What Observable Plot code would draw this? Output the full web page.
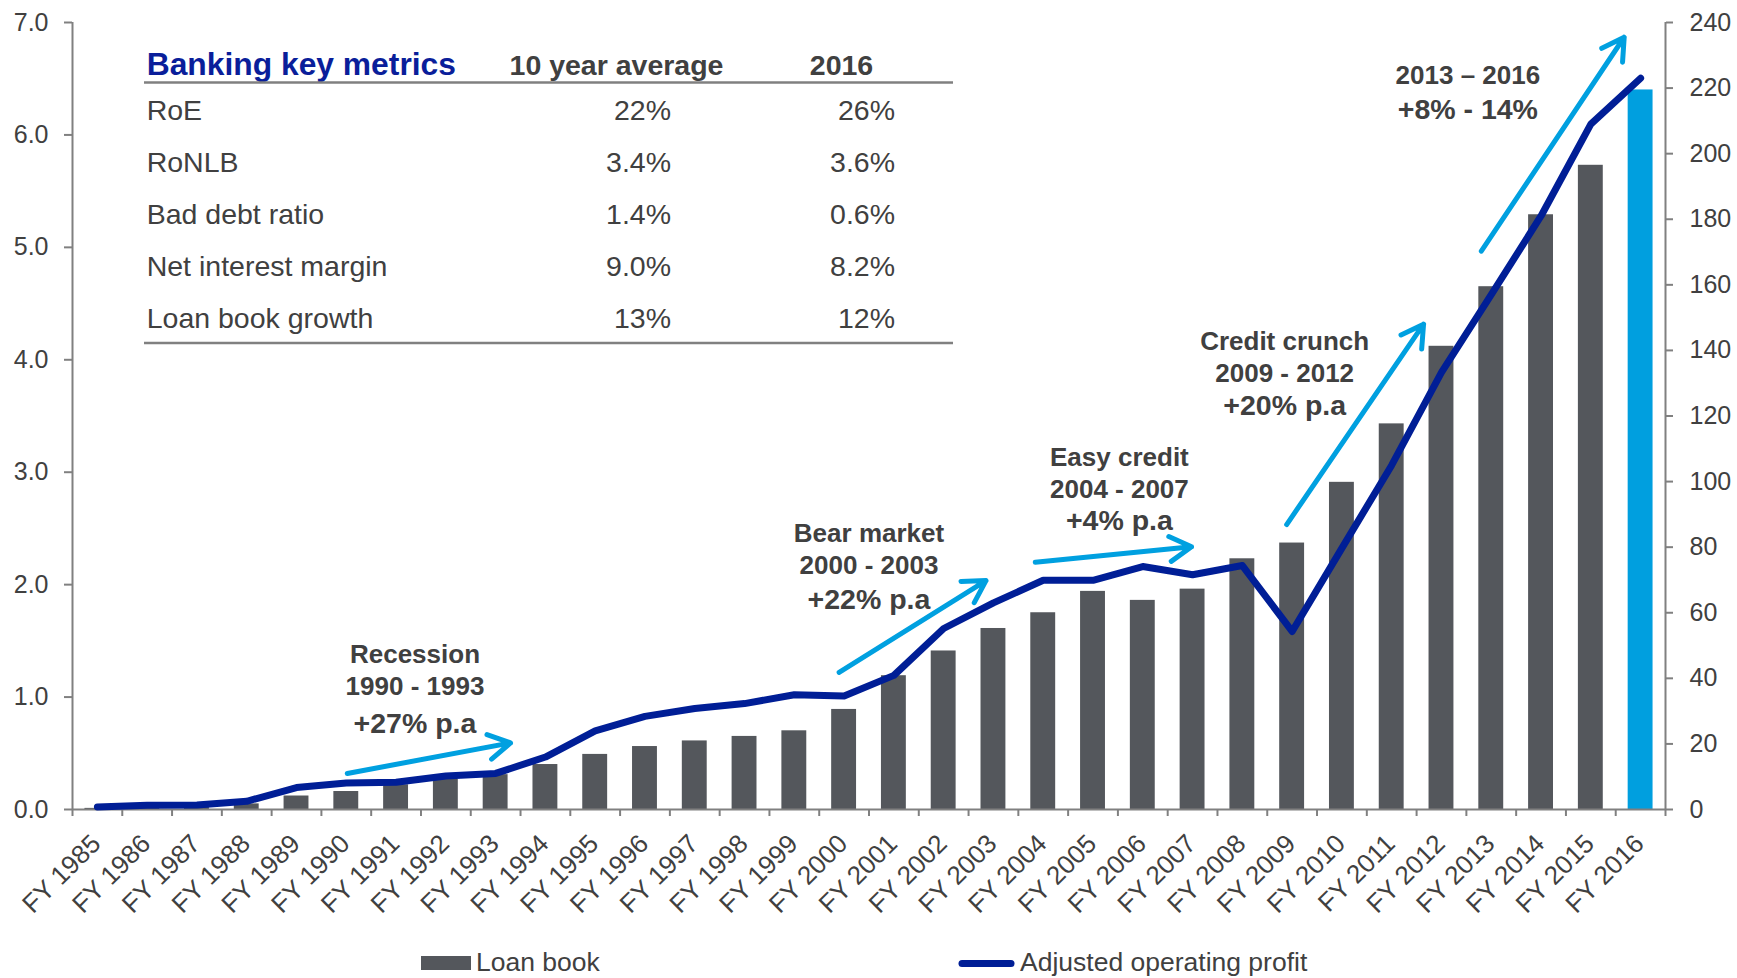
<!DOCTYPE html>
<html>
<head>
<meta charset="utf-8">
<script src="https://cdn.jsdelivr.net/npm/d3@7"></script>
<script src="https://cdn.jsdelivr.net/npm/@observablehq/plot@0.6"></script>
<style>
  html, body { margin: 0; padding: 0; background: #fff; }
  #wrap { position: relative; width: 1737px; height: 978px; overflow: hidden; background: #fff; }
  #wrap svg { display: block; }
</style>
</head>
<body>
<div id="wrap"></div>
<script>
// ---------------- DATA ----------------
const years = [1985, 1986, 1987, 1988, 1989, 1990, 1991, 1992, 1993, 1994, 1995, 1996, 1997, 1998, 1999, 2000,
               2001, 2002, 2003, 2004, 2005, 2006, 2007, 2008, 2009, 2010, 2011, 2012, 2013, 2014, 2015, 2016];
// Loan book (left axis, 0–7)
const loanBook = [0.01, 0.01, 0.02, 0.05, 0.12, 0.16, 0.22, 0.27, 0.31, 0.40, 0.49, 0.56, 0.61, 0.65, 0.70, 0.89,
                  1.19, 1.41, 1.61, 1.75, 1.94, 1.86, 1.96, 2.23, 2.37, 2.91, 3.43, 4.12, 4.65, 5.29, 5.73, 6.40];
// Adjusted operating profit (right axis, 0–240)
const profit = [0.8, 1.3, 1.4, 2.5, 6.7, 8.1, 8.3, 10.2, 11.0, 16.0, 24.0, 28.4, 30.8, 32.3, 35.0, 34.6,
                40.9, 55.2, 63.0, 69.9, 69.9, 74.1, 71.6, 74.4, 54.3, 79.7, 105, 133.3, 157, 181, 209, 223];
const highlightYear = 2016;

const leftTicks = [0, 1, 2, 3, 4, 5, 6, 7];
const leftMax = 7;
const rightTicks = [0, 20, 40, 60, 80, 100, 120, 140, 160, 180, 200, 220, 240];
const rightMax = 240;

const legendLabels = ["Loan book", "Adjusted operating profit"];

// Key metrics table
const tableHeader = ["Banking key metrics", "10 year average", "2016"];
const tableRows = ["RoE", "RoNLB", "Bad debt ratio", "Net interest margin", "Loan book growth"];
const tableAvg = ["22%", "3.4%", "1.4%", "9.0%", "13%"];
const table2016 = ["26%", "3.6%", "0.6%", "8.2%", "12%"];

// Period annotations (anchored in year / right-axis units)
const annotTitles = [["Recession", "1990 - 1993"], ["Bear market", "2000 - 2003"], ["Easy credit", "2004 - 2007"],
                     ["Credit crunch", "2009 - 2012"], ["2013 \u2013 2016"]];
const annotRates = ["+27% p.a", "+22% p.a", "+4% p.a", "+20% p.a", "+8% - 14%"];
const annotYear = [1991.38, 2000.5, 2005.53, 2008.85, 2012.53];
const annotTitleValues = [[44.6, 34.8], [81.5, 71.9], [104.6, 95.1], [140.1, 130.3], [221.3]];
const annotRateValue = [23.2, 61.2, 85.1, 120.2, 210.7];

// Trend arrows (year, right-axis value)
const arrowStartYear = [1990.02, 1999.90, 2003.84, 2008.89, 2012.80];
const arrowStartValue = [11.0, 41.8, 75.4, 86.9, 170.3];
const arrowEndYear = [1993.30, 2002.85, 2006.98, 2011.64, 2015.67];
const arrowEndValue = [20.3, 69.8, 80.1, 148.0, 235.5];

// ---------------- STYLE ----------------
const FONT = "'Liberation Sans', Arial, Helvetica, sans-serif";
const BAR_GRAY = "#54575C";
const BAR_BLUE = "#009FDF";
const NAVY = "#001E96";
const ARROW_BLUE = "#00A0E0";
const TEXT = "#404040";
const AXIS = "#808080";
const TITLE_BLUE = "#0A1E9A";

const W = 1737, H = 935;
const k = rightMax / leftMax;

const data = years.map((y, i) => ({year: y, loan: loanBook[i], profit: profit[i]}));
const xDomain = [years[0] - 0.5, years[years.length - 1] + 0.5];
const bounds = years.map(y => y - 0.5).concat([years[years.length - 1] + 0.5]);

const titleLines = [];
annotTitles.forEach((lines, g) => lines.forEach((t, j) => titleLines.push({text: t, x: annotYear[g], y: annotTitleValues[g][j]})));
const rateLines = annotRates.map((t, g) => ({text: t, x: annotYear[g], y: annotRateValue[g]}));
const arrows = arrowStartYear.map((x, i) => ({x1: x, y1: arrowStartValue[i], x2: arrowEndYear[i], y2: arrowEndValue[i]}));

const chart = Plot.plot({
  width: W,
  height: H,
  marginLeft: 72,
  marginRight: 72,
  marginTop: 22,
  marginBottom: 126,
  x: {domain: xDomain, label: null},
  y: {domain: [0, rightMax], label: null},
  style: {fontFamily: FONT, color: TEXT, background: "#fff", overflow: "visible"},
  marks: [
    Plot.rectY(data, {
      x1: d => d.year - 0.25, x2: d => d.year + 0.25,
      y1: 0, y2: d => d.loan * k,
      fill: d => d.year === highlightYear ? BAR_BLUE : BAR_GRAY
    }),
    Plot.ruleY([0], {stroke: AXIS, strokeWidth: 2}),
    Plot.ruleX(xDomain, {stroke: AXIS, strokeWidth: 2}),
    Plot.axisY({
      anchor: "left", ticks: leftTicks.map(v => v * k), tickFormat: d => (d / k).toFixed(1),
      tickSize: 8, tickPadding: 16, fontSize: 25, stroke: AXIS, strokeWidth: 2, label: null
    }),
    Plot.axisY({
      anchor: "right", ticks: rightTicks, tickFormat: d => String(d),
      tickSize: 7, tickPadding: 17, fontSize: 25, stroke: AXIS, strokeWidth: 2, label: null
    }),
    Plot.axisX({ticks: bounds, tickSize: 7, tickFormat: () => "", stroke: AXIS, strokeWidth: 2, label: null}),
    Plot.axisX({
      ticks: years, tickSize: 0, tickPadding: 30, tickRotate: -45, textAnchor: "end", lineAnchor: "middle",
      dx: -1, tickFormat: d => "FY " + d, fontSize: 26, label: null
    }),
    Plot.lineY(data, {x: "year", y: "profit", stroke: NAVY, strokeWidth: 7, strokeLinecap: "round", strokeLinejoin: "round"}),
    Plot.arrow(arrows, {x1: "x1", y1: "y1", x2: "x2", y2: "y2", stroke: ARROW_BLUE, strokeWidth: 5, headLength: 7.5, headAngle: 60}),
    Plot.text(titleLines, {x: "x", y: "y", text: "text", fontSize: 26, fontWeight: "bold", fill: TEXT, textAnchor: "middle", lineAnchor: "bottom"}),
    Plot.text(rateLines, {x: "x", y: "y", text: "text", fontSize: 28.5, fontWeight: "bold", fill: TEXT, textAnchor: "middle", lineAnchor: "bottom"})
  ]
});

const wrap = document.getElementById("wrap");
wrap.appendChild(chart);

// ---------------- KEY METRICS TABLE (overlay) ----------------
const ov = d3.select(wrap).append("svg")
  .attr("width", W).attr("height", H)
  .style("position", "absolute").style("left", "0px").style("top", "0px")
  .style("pointer-events", "none")
  .style("font-family", FONT);

const tLeft = 144, tRight = 953, labelX = 146.7, avgRight = 671, curRight = 895;
const headBase = 74.5, rowBase0 = 120, rowStep = 52, headLineY = 82.5, bottomLineY = 343;

ov.append("text").attr("x", labelX).attr("y", headBase).attr("fill", TITLE_BLUE)
  .attr("font-size", 31.8).attr("font-weight", "bold").text(tableHeader[0]);
ov.append("text").attr("x", 616.5).attr("y", headBase + 0.5).attr("fill", TEXT).attr("text-anchor", "middle")
  .attr("font-size", 28.5).attr("font-weight", "bold").text(tableHeader[1]);
ov.append("text").attr("x", 841.5).attr("y", headBase + 0.5).attr("fill", TEXT).attr("text-anchor", "middle")
  .attr("font-size", 28.5).attr("font-weight", "bold").text(tableHeader[2]);
ov.append("line").attr("x1", tLeft).attr("x2", tRight).attr("y1", headLineY).attr("y2", headLineY)
  .attr("stroke", AXIS).attr("stroke-width", 2.5);
ov.append("line").attr("x1", tLeft).attr("x2", tRight).attr("y1", bottomLineY).attr("y2", bottomLineY)
  .attr("stroke", AXIS).attr("stroke-width", 2.5);
tableRows.forEach((r, i) => {
  const yb = rowBase0 + i * rowStep;
  ov.append("text").attr("x", labelX).attr("y", yb).attr("fill", TEXT).attr("font-size", 28.5).text(r);
  ov.append("text").attr("x", avgRight).attr("y", yb).attr("fill", TEXT).attr("font-size", 28.5)
    .attr("text-anchor", "end").text(tableAvg[i]);
  ov.append("text").attr("x", curRight).attr("y", yb).attr("fill", TEXT).attr("font-size", 28.5)
    .attr("text-anchor", "end").text(table2016[i]);
});

// ---------------- LEGEND (below the chart) ----------------
const lg = d3.select(wrap).append("svg")
  .attr("width", W).attr("height", 978 - H)
  .style("font-family", FONT);
const base = 971 - H;
lg.append("rect").attr("x", 421).attr("y", 956 - H).attr("width", 50).attr("height", 14).attr("fill", BAR_GRAY);
lg.append("text").attr("x", 476).attr("y", base).attr("fill", TEXT).attr("font-size", 26.5).text(legendLabels[0]);
lg.append("line").attr("x1", 962).attr("x2", 1011).attr("y1", 963.5 - H).attr("y2", 963.5 - H)
  .attr("stroke", NAVY).attr("stroke-width", 7).attr("stroke-linecap", "round");
lg.append("text").attr("x", 1020).attr("y", base).attr("fill", TEXT).attr("font-size", 26.5).text(legendLabels[1]);
</script>
</body>
</html>
